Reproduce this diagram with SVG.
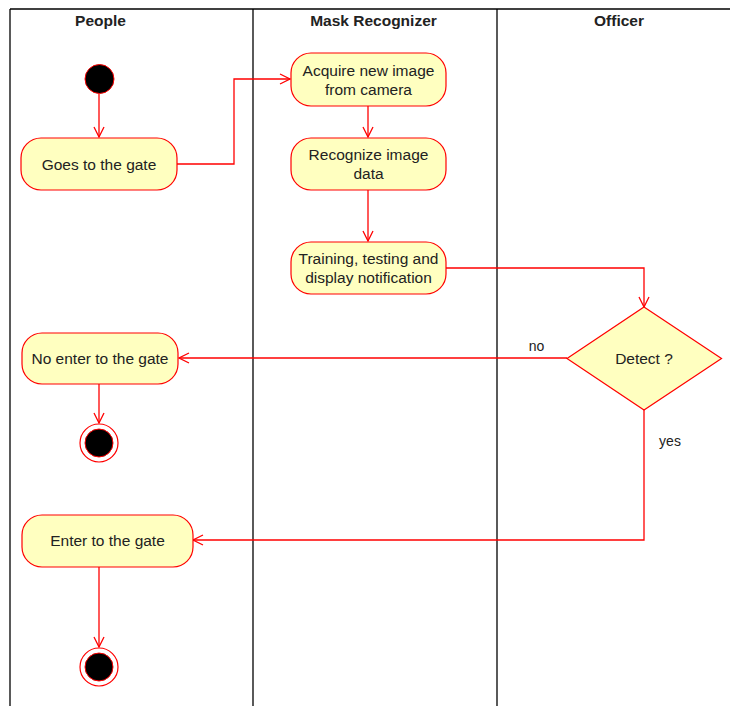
<svg xmlns="http://www.w3.org/2000/svg" width="730" height="706" viewBox="0 0 730 706">
<style>
.lane{stroke:#000;stroke-width:1.3;fill:none}
.hdr{font-family:"Liberation Sans",Arial,sans-serif;font-size:15.5px;font-weight:bold;fill:#222;text-anchor:middle}
.act{fill:#FFFFC0;stroke:#FF0000;stroke-width:1.2}
.txt{font-family:"Liberation Sans",Arial,sans-serif;font-size:15.5px;fill:#222;text-anchor:middle}
.lbl{font-family:"Liberation Sans",Arial,sans-serif;font-size:14px;fill:#222;text-anchor:middle}
.edge{stroke:#FF0000;stroke-width:1.3;fill:none}
</style>
<defs>
<marker id="arr" viewBox="0 0 12 12" refX="11" refY="6" markerWidth="12" markerHeight="12" markerUnits="userSpaceOnUse" orient="auto">
<path d="M1,1 L11,6 L1,11" fill="none" stroke="#FF0000" stroke-width="1.3"/>
</marker>
</defs>
<rect width="730" height="706" fill="#fff"/>
<g id="lanes">
<line class="lane" x1="10" y1="9" x2="730" y2="9"/>
<line class="lane" x1="10" y1="9" x2="10" y2="706"/>
<line class="lane" x1="253" y1="9" x2="253" y2="706"/>
<line class="lane" x1="497" y1="9" x2="497" y2="706"/>
<text class="hdr" x="100.5" y="26">People</text>
<text class="hdr" x="373.5" y="26">Mask Recognizer</text>
<text class="hdr" x="619" y="26">Officer</text>
</g>
<g id="connectors">
<path class="edge" d="M99,94 L99,137" marker-end="url(#arr)"/>
<path class="edge" d="M177,164 L234,164 L234,79 L290,79" marker-end="url(#arr)"/>
<path class="edge" d="M368,106 L368,137" marker-end="url(#arr)"/>
<path class="edge" d="M368,190 L368,241" marker-end="url(#arr)"/>
<path class="edge" d="M446,268 L644,268 L644,307" marker-end="url(#arr)"/>
<path class="edge" d="M567,358 L179,358" marker-end="url(#arr)"/>
<path class="edge" d="M644,410 L644,540 L193,540" marker-end="url(#arr)"/>
<path class="edge" d="M99,384 L99,423" marker-end="url(#arr)"/>
<path class="edge" d="M99,567 L99,647" marker-end="url(#arr)"/>
<text class="lbl" x="536.5" y="351">no</text>
<text class="lbl" x="670" y="446">yes</text>
</g>
<g id="start">
<circle cx="99.5" cy="79" r="14.5" fill="#000" stroke="#FF0000" stroke-width="1"/>
</g>
<g id="goes">
<rect class="act" x="21" y="138" width="156" height="52" rx="20" ry="20"/>
<text class="txt" x="99" y="169.5">Goes to the gate</text>
</g>
<g id="acquire">
<rect class="act" x="291" y="53" width="155" height="53" rx="20" ry="20"/>
<text class="txt" x="368.5" y="75.5">Acquire new image</text>
<text class="txt" x="368.5" y="94.5">from camera</text>
</g>
<g id="recognize">
<rect class="act" x="291" y="138" width="155" height="52" rx="20" ry="20"/>
<text class="txt" x="368.5" y="160">Recognize image</text>
<text class="txt" x="368.5" y="179">data</text>
</g>
<g id="training">
<rect class="act" x="291" y="242" width="155" height="52" rx="20" ry="20"/>
<text class="txt" x="368.5" y="264">Training, testing and</text>
<text class="txt" x="368.5" y="283">display notification</text>
</g>
<g id="detect">
<polygon class="act" points="644,307 721.5,358.5 644,410 567,358.5"/>
<text class="txt" x="644" y="363.5">Detect ?</text>
</g>
<g id="noenter">
<rect class="act" x="22" y="333" width="156" height="51" rx="20" ry="20"/>
<text class="txt" x="100" y="364">No enter to the gate</text>
</g>
<g id="end1">
<circle cx="99" cy="443" r="19" fill="#fff" stroke="#FF0000" stroke-width="1.2"/>
<circle cx="99" cy="443" r="14" fill="#000" stroke="#FF0000" stroke-width="1"/>
</g>
<g id="enter">
<rect class="act" x="22" y="515" width="171" height="52" rx="20" ry="20"/>
<text class="txt" x="107.5" y="546">Enter to the gate</text>
</g>
<g id="end2">
<circle cx="99" cy="667" r="19" fill="#fff" stroke="#FF0000" stroke-width="1.2"/>
<circle cx="99" cy="667" r="14" fill="#000" stroke="#FF0000" stroke-width="1"/>
</g>
</svg>
